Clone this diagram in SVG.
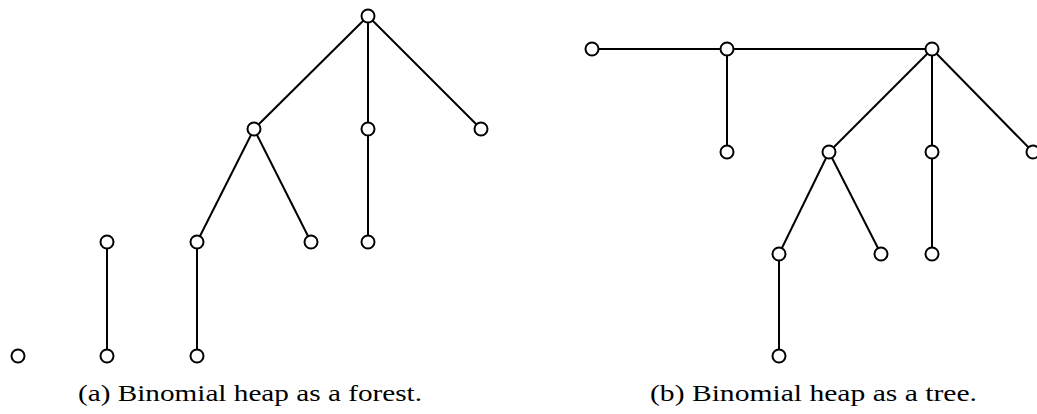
<svg xmlns="http://www.w3.org/2000/svg" width="1037" height="414" viewBox="0 0 1037 414">
<style>
.n{fill:#fff;stroke:#000;stroke-width:2}
.e line{stroke:#000;stroke-width:2}
.cap{font-family:"Liberation Serif",serif;font-size:23px;fill:#000}
</style>
<rect width="1037" height="414" fill="#fff"/>
<g class="e" id="connectors">
<line x1="368" y1="16" x2="254" y2="129"/>
<line x1="368" y1="16" x2="368" y2="129"/>
<line x1="368" y1="16" x2="481" y2="129"/>
<line x1="254" y1="129" x2="197" y2="242"/>
<line x1="254" y1="129" x2="311" y2="242"/>
<line x1="368" y1="129" x2="368" y2="242"/>
<line x1="197" y1="242" x2="197" y2="356"/>
<line x1="107" y1="242" x2="107" y2="356"/>
<line x1="592" y1="49" x2="932" y2="49"/>
<line x1="727" y1="49" x2="727" y2="152"/>
<line x1="932" y1="49" x2="829" y2="152"/>
<line x1="932" y1="49" x2="932" y2="152"/>
<line x1="932" y1="49" x2="1033" y2="152"/>
<line x1="829" y1="152" x2="779" y2="254"/>
<line x1="829" y1="152" x2="881" y2="254"/>
<line x1="932" y1="152" x2="932" y2="254"/>
<line x1="779" y1="254" x2="779" y2="356"/>
</g>
<g id="a1"><circle class="n" cx="368" cy="16" r="6.5"/></g>
<g id="a2"><circle class="n" cx="254" cy="129" r="6.5"/></g>
<g id="a3"><circle class="n" cx="368" cy="129" r="6.5"/></g>
<g id="a4"><circle class="n" cx="481" cy="129" r="6.5"/></g>
<g id="a5"><circle class="n" cx="197" cy="242" r="6.5"/></g>
<g id="a6"><circle class="n" cx="311" cy="242" r="6.5"/></g>
<g id="a7"><circle class="n" cx="368" cy="242" r="6.5"/></g>
<g id="a8"><circle class="n" cx="107" cy="242" r="6.5"/></g>
<g id="a9"><circle class="n" cx="18" cy="356" r="6.5"/></g>
<g id="a10"><circle class="n" cx="107" cy="356" r="6.5"/></g>
<g id="a11"><circle class="n" cx="197" cy="356" r="6.5"/></g>
<g id="b1"><circle class="n" cx="592" cy="49" r="6.5"/></g>
<g id="b2"><circle class="n" cx="727" cy="49" r="6.5"/></g>
<g id="b3"><circle class="n" cx="932" cy="49" r="6.5"/></g>
<g id="b4"><circle class="n" cx="727" cy="152" r="6.5"/></g>
<g id="b5"><circle class="n" cx="829" cy="152" r="6.5"/></g>
<g id="b6"><circle class="n" cx="932" cy="152" r="6.5"/></g>
<g id="b7"><circle class="n" cx="1033" cy="152" r="6.5"/></g>
<g id="b8"><circle class="n" cx="779" cy="254" r="6.5"/></g>
<g id="b9"><circle class="n" cx="881" cy="254" r="6.5"/></g>
<g id="b10"><circle class="n" cx="932" cy="254" r="6.5"/></g>
<g id="b11"><circle class="n" cx="779" cy="356" r="6.5"/></g>
<text class="cap" x="78" y="401" textLength="344" lengthAdjust="spacingAndGlyphs">(a) Binomial heap as a forest.</text>
<text class="cap" x="650" y="401" textLength="327" lengthAdjust="spacingAndGlyphs">(b) Binomial heap as a tree.</text>
</svg>
